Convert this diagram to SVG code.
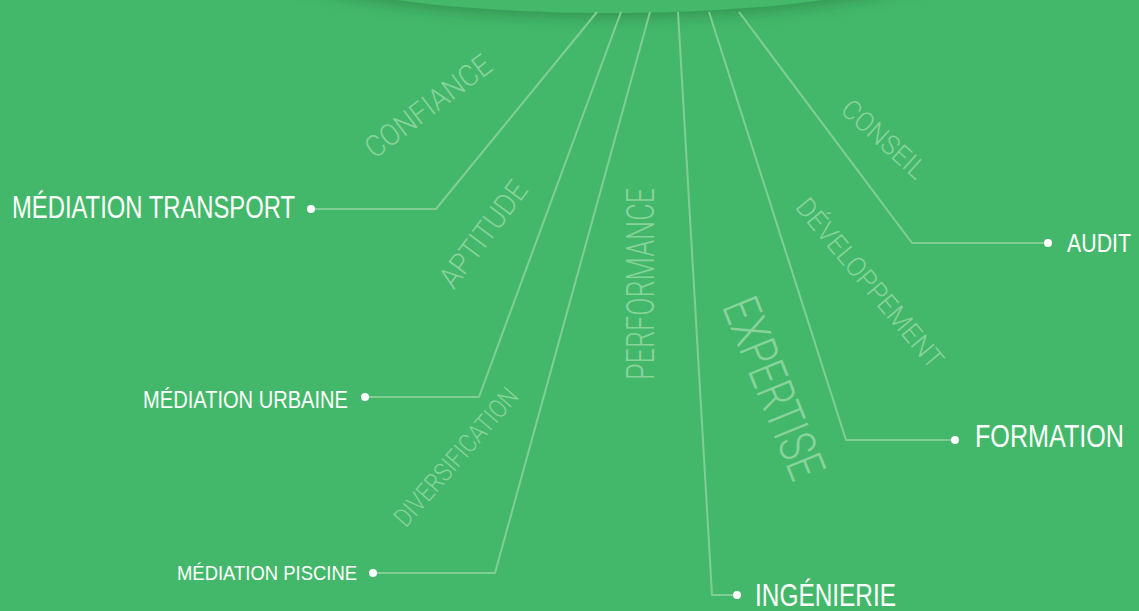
<svg xmlns="http://www.w3.org/2000/svg" width="1139" height="611" viewBox="0 0 1139 611">
<defs>
<filter id="shadow" x="-30%" y="-50%" width="160%" height="250%">
<feDropShadow dx="0" dy="4" stdDeviation="8" flood-color="#1f6b38" flood-opacity="0.5"/>
</filter>
<style>
.bg{fill:#44b86a}
.conn{fill:none;stroke:#7fcf94;stroke-width:2;stroke-linejoin:round}
.dot{fill:#ffffff}
.lbl{fill:#ffffff;font-family:"Liberation Sans",Arial,sans-serif}
.wm{fill:#88d39c;font-family:Roboto,"Liberation Sans",sans-serif;font-weight:300}
</style>
</defs>
<rect class="bg" x="0" y="0" width="1139" height="611"/>
<ellipse class="bg" cx="610" cy="-62" rx="380" ry="75" filter="url(#shadow)"/>

<g id="connectors">
<polyline class="conn" points="597,12 436,209 311,209"/>
<polyline class="conn" points="621,12 479,397 365,397"/>
<polyline class="conn" points="650,12 495,573 373,573"/>
<polyline class="conn" points="678,12 712,595 737,595"/>
<polyline class="conn" points="709,12 846,440 955,440"/>
<polyline class="conn" points="739,12 912,243 1048,243"/>
</g>

<g id="watermarks">
<text class="wm" font-size="30" text-anchor="middle" textLength="150" lengthAdjust="spacingAndGlyphs" transform="translate(428,106) rotate(-37)" x="0" y="10.5">CONFIANCE</text>
<text class="wm" font-size="30" text-anchor="middle" textLength="125" lengthAdjust="spacingAndGlyphs" transform="translate(483,234) rotate(-53)" x="0" y="10.5">APTITUDE</text>
<text class="wm" font-size="38" text-anchor="middle" textLength="192" lengthAdjust="spacingAndGlyphs" transform="translate(640,284) rotate(-90)" x="0" y="13.5">PERFORMANCE</text>
<text class="wm" font-size="26" text-anchor="middle" textLength="174" lengthAdjust="spacingAndGlyphs" transform="translate(456,457) rotate(-49)" x="0" y="9">DIVERSIFICATION</text>
<text class="wm" font-size="51" text-anchor="middle" textLength="191" lengthAdjust="spacingAndGlyphs" transform="translate(774,388) rotate(68)" x="0" y="18">EXPERTISE</text>
<text class="wm" font-size="27" text-anchor="middle" textLength="213" lengthAdjust="spacingAndGlyphs" transform="translate(870,283) rotate(50)" x="0" y="9.5">DÉVELOPPEMENT</text>
<text class="wm" font-size="27" text-anchor="middle" textLength="103" lengthAdjust="spacingAndGlyphs" transform="translate(884,139) rotate(42)" x="0" y="9.5">CONSEIL</text>
</g>

<g id="node-transport">
<circle class="dot" cx="311" cy="209" r="4"/>
<text class="lbl" x="12" y="218" font-size="32" textLength="283" lengthAdjust="spacingAndGlyphs">MÉDIATION TRANSPORT</text>
</g>
<g id="node-urbaine">
<circle class="dot" cx="365" cy="397" r="4"/>
<text class="lbl" x="143" y="408" font-size="23" textLength="205" lengthAdjust="spacingAndGlyphs">MÉDIATION URBAINE</text>
</g>
<g id="node-piscine">
<circle class="dot" cx="373" cy="573" r="4"/>
<text class="lbl" x="177" y="580" font-size="21" textLength="180" lengthAdjust="spacingAndGlyphs">MÉDIATION PISCINE</text>
</g>
<g id="node-ingenierie">
<circle class="dot" cx="737" cy="595" r="4"/>
<text class="lbl" x="755" y="606" font-size="32" textLength="141" lengthAdjust="spacingAndGlyphs">INGÉNIERIE</text>
</g>
<g id="node-formation">
<circle class="dot" cx="955" cy="440" r="4"/>
<text class="lbl" x="975" y="447" font-size="31" textLength="149" lengthAdjust="spacingAndGlyphs">FORMATION</text>
</g>
<g id="node-audit">
<circle class="dot" cx="1048" cy="243" r="4"/>
<text class="lbl" x="1067" y="252" font-size="25" textLength="64" lengthAdjust="spacingAndGlyphs">AUDIT</text>
</g>
</svg>
